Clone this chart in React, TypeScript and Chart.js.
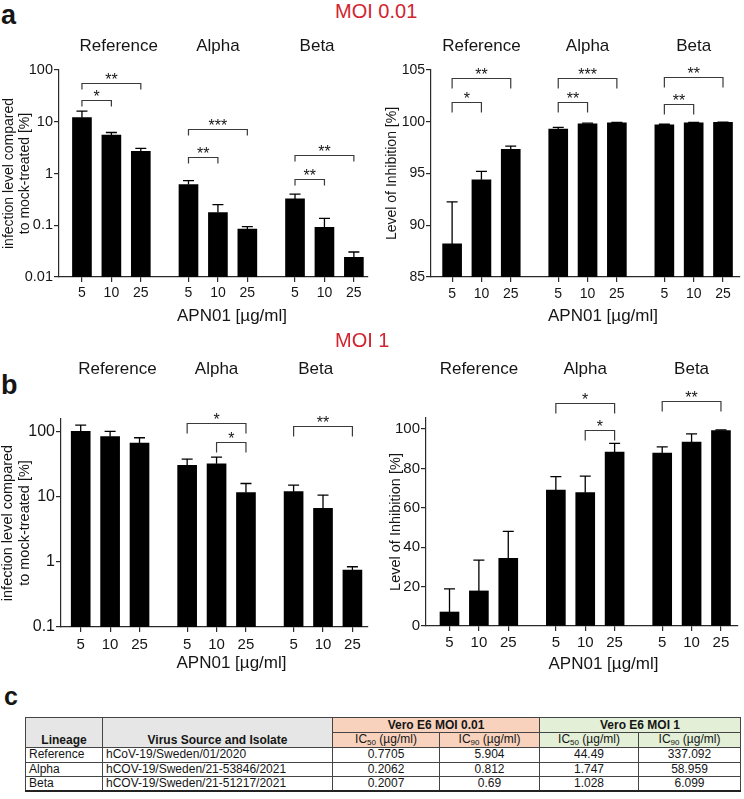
import React, { useEffect, useRef } from 'react';
import { Chart, registerables } from 'chart.js';
Chart.register(...registerables);

const FONT = '"Liberation Sans", Arial, Helvetica, sans-serif';
Chart.defaults.font.family = FONT;
Chart.defaults.color = '#151515';

// ---------- data ----------
const lineages = ['Reference', 'Alpha', 'Beta'];
const doses = ['5', '10', '25'];

// MOI 0.01
const moi001Infection = [12, 5.5, 2.67, 0.61, 0.176, 0.084, 0.323, 0.091, 0.024];
const moi001InfectionUpper = [16.1, 6.2, 3.05, 0.73, 0.25, 0.094, 0.398, 0.136, 0.0304];
const moi001Inhibition = [88.2, 94.4, 97.33, 99.3, 99.8, 99.9, 99.7, 99.9, 99.95];
const moi001InhibitionUpper = [92.26, 95.2, 97.65, 99.45, 99.87, 99.93, 99.76, 99.93, 99.97];
// MOI 1
const moi1Infection = [100, 83, 66, 30.3, 31.8, 11.5, 11.9, 6.6, 0.745];
const moi1InfectionUpper = [125, 100, 80, 37.6, 40.4, 15.9, 15, 10.5, 0.84];
const moi1Inhibition = [7.1, 17.8, 34.4, 69, 67.7, 88.3, 87.8, 93.4, 99.2];
const moi1InhibitionUpper = [18.8, 33.4, 48, 75.8, 76.1, 92.7, 90.9, 97.5, 99.5];

// y tick labels
const ticksInfection001 = [0.01, 0.1, 1, 10, 100];
const ticksInhibition001 = [85, 90, 95, 100, 105];
const ticksInfection1 = [0.1, 1, 10, 100];
const ticksInhibition1 = [0, 20, 40, 60, 80, 100];

// significance brackets: bar indices, level (axis units), label
const sigInfection001 = [
  { from: 0, to: 1, at: 26, label: '*' },
  { from: 0, to: 2, at: 55, label: '**' },
  { from: 3, to: 4, at: 2.07, label: '**' },
  { from: 3, to: 5, at: 7.1, label: '***' },
  { from: 6, to: 7, at: 0.786, label: '**' },
  { from: 6, to: 8, at: 2.23, label: '**' },
];
const sigInhibition001 = [
  { from: 0, to: 1, at: 101.94, label: '*' },
  { from: 0, to: 2, at: 104.26, label: '**' },
  { from: 3, to: 4, at: 101.9, label: '**' },
  { from: 3, to: 5, at: 104.2, label: '***' },
  { from: 6, to: 7, at: 101.7, label: '**' },
  { from: 6, to: 8, at: 104.36, label: '**' },
];
const sigInfection1 = [
  { from: 3, to: 5, at: 135, label: '*' },
  { from: 4, to: 5, at: 70, label: '*' },
  { from: 6, to: 8, at: 119, label: '**' },
];
const sigInhibition1 = [
  { from: 3, to: 5, at: 113, label: '*' },
  { from: 4, to: 5, at: 99.5, label: '*' },
  { from: 6, to: 8, at: 114.4, label: '**' },
];

// table
const tableLineage = ['Reference', 'Alpha', 'Beta'];
const tableIsolate = ['hCoV-19/Sweden/01/2020', 'hCOV-19/Sweden/21-53846/2021', 'hCOV-19/Sweden/21-51217/2021'];
const ic50Moi001 = ['0.7705', '0.2062', '0.2007'];
const ic90Moi001 = ['5.904', '0.812', '0.69'];
const ic50Moi1 = ['44.49', '1.747', '1.028'];
const ic90Moi1 = ['337.092', '58.959', '6.099'];

// ---------- layout ----------
const GROUP_STEP = 3.62;
const xs = lineages.flatMap((_, g) => doses.map((_, i) => g * GROUP_STEP + i));
const AXIS = '#2a2a2a';

type PanelProps = {
  left: number; top: number; width: number; height: number;
  values: number[]; upper: number[]; sig: { from: number; to: number; at: number; label: string }[];
  yType: 'logarithmic' | 'linear'; yMin: number; yMax: number; yTicks: number[];
  yTitle: string | string[]; area: { left: number; right: number; top: number; bottom: number };
  xMin: number; xMax: number;
  yTickSize: number; xTickSize: number; xTickPad: number;
  yTitleSize: number; yTitleLH: number; yTitlePad: number;
  xTitleX: number; xTitleY: number; groupY: number; labelShift: number; legLen: number;
};

function BarPanel(p: PanelProps) {
  const ref = useRef<HTMLCanvasElement | null>(null);
  useEffect(() => {
    if (!ref.current) return;
    const annot = {
      id: 'annot',
      afterDatasetsDraw(chart: any) {
        const { ctx } = chart;
        const x = chart.scales.x, y = chart.scales.y;
        ctx.save();
        // error bars
        ctx.strokeStyle = '#000';
        ctx.lineWidth = 1.3;
        p.upper.forEach((u, k) => {
          const px = x.getPixelForValue(xs[k]);
          const top = y.getPixelForValue(u);
          const base = y.getPixelForValue(p.values[k]);
          ctx.beginPath();
          ctx.moveTo(px, base);
          ctx.lineTo(px, top);
          ctx.moveTo(px - 5.5, top);
          ctx.lineTo(px + 5.5, top);
          ctx.stroke();
        });
        // brackets
        p.sig.forEach((s) => {
          const x1 = x.getPixelForValue(xs[s.from]);
          const x2 = x.getPixelForValue(xs[s.to]);
          const yy = Math.round(y.getPixelForValue(s.at)) + 0.5;
          ctx.strokeStyle = '#3a3a3a';
          ctx.lineWidth = 1.2;
          ctx.beginPath();
          ctx.moveTo(x1, yy + p.legLen);
          ctx.lineTo(x1, yy);
          ctx.lineTo(x2, yy);
          ctx.lineTo(x2, yy + p.legLen);
          ctx.stroke();
          ctx.fillStyle = '#151515';
          ctx.font = `16px ${FONT}`;
          ctx.textAlign = 'center';
          ctx.textBaseline = 'alphabetic';
          ctx.fillText(s.label, (x1 + x2) / 2, yy + 1);
        });
        // group labels
        ctx.fillStyle = '#151515';
        ctx.font = `17px ${FONT}`;
        ctx.textAlign = 'center';
        ctx.textBaseline = 'middle';
        lineages.forEach((name, g) => {
          ctx.fillText(name, x.getPixelForValue(g * GROUP_STEP + 1 + (1 - g) * p.labelShift), p.groupY);
        });
        // x title
        ctx.font = `17px ${FONT}`;
        ctx.fillText('APN01 [µg/ml]', p.xTitleX, p.xTitleY);
        ctx.restore();
      },
    };
    const gridOpts = { drawOnChartArea: false, drawTicks: true, tickLength: 5, color: AXIS, lineWidth: 1.2, offset: false };
    const chart = new Chart(ref.current, {
      type: 'bar',
      data: {
        datasets: [{
          data: xs.map((x, k) => ({ x, y: p.values[k] })),
          backgroundColor: '#000',
          borderWidth: 0,
          barThickness: 19,
        }],
      },
      options: {
        animation: false,
        responsive: false,
        maintainAspectRatio: false,
        layout: { padding: { left: 0, top: p.area.top, right: p.width - p.area.right, bottom: 0 } },
        plugins: { legend: { display: false }, tooltip: { enabled: false } },
        scales: {
          x: {
            type: 'linear',
            offset: false,
            min: p.xMin,
            max: p.xMax,
            afterFit: (s: any) => { s.height = p.height - p.area.bottom; },
            afterBuildTicks: (s: any) => { s.ticks = xs.map((v) => ({ value: v })); },
            ticks: {
              callback: (_v: any, i: number) => doses[i % 3],
              autoSkip: false, maxRotation: 0, minRotation: 0,
              padding: p.xTickPad, font: { size: p.xTickSize }, color: '#151515',
            },
            grid: gridOpts,
            border: { display: true, color: AXIS, width: 1.2 },
          },
          y: {
            type: p.yType,
            min: p.yMin,
            max: p.yMax,
            afterFit: (s: any) => { s.width = p.area.left; },
            afterBuildTicks: (s: any) => { s.ticks = p.yTicks.map((v) => ({ value: v })); },
            ticks: {
              callback: (v: any) => String(v),
              autoSkip: false,
              padding: 1, font: { size: p.yTickSize }, color: '#151515',
            },
            grid: gridOpts,
            border: { display: true, color: AXIS, width: 1.2 },
            title: {
              display: true, text: p.yTitle, color: '#151515',
              font: { size: p.yTitleSize, lineHeight: p.yTitleLH },
              padding: { top: p.yTitlePad, bottom: 0 },
            },
          },
        },
      } as any,
      plugins: [annot as any],
    });
    return () => chart.destroy();
  }, []);
  return (
    <canvas
      ref={ref}
      width={p.width}
      height={p.height}
      style={{ position: 'absolute', left: p.left, top: p.top, width: p.width, height: p.height }}
    />
  );
}

const infTitle = ['infection level compared', 'to mock-treated [%]'];
const inhTitle = 'Level of Inhibition [%]';

const cell: React.CSSProperties = { border: '1px solid #444', padding: '0 3px', lineHeight: '13px', whiteSpace: 'nowrap' };
const SUB = (n: string) => (<span>IC<sub style={{ fontSize: 8, verticalAlign: 'baseline', position: 'relative', top: 2 }}>{n}</sub> (µg/ml)</span>);

export default function App() {
  return (
    <div style={{ position: 'absolute', left: 0, top: 0, width: 744, height: 799, background: '#fff', fontFamily: FONT, color: '#151515', overflow: 'hidden' }}>
      <div style={{ position: 'absolute', left: 1, top: 2, fontSize: 27, fontWeight: 'bold', lineHeight: 1 }}>a</div>
      <div style={{ position: 'absolute', left: 335, top: 1, fontSize: 20, color: '#d2232f', lineHeight: 1 }}>MOI 0.01</div>
      <BarPanel left={0} top={30} width={372} height={300}
        values={moi001Infection} upper={moi001InfectionUpper} sig={sigInfection001}
        yType="logarithmic" yMin={0.01} yMax={100} yTicks={ticksInfection001} yTitle={infTitle}
        area={{ left: 59, right: 368, top: 40, bottom: 247 }} xMin={-0.78} xMax={9.72}
        yTickSize={14.5} xTickSize={14} xTickPad={2.6} yTitleSize={14} yTitleLH={1.15} yTitlePad={1}
        xTitleX={232} xTitleY={286.5} groupY={16} labelShift={0.25} legLen={6} />
      <BarPanel left={372} top={30} width={372} height={300}
        values={moi001Inhibition} upper={moi001InhibitionUpper} sig={sigInhibition001}
        yType="linear" yMin={85} yMax={105} yTicks={ticksInhibition001} yTitle={inhTitle}
        area={{ left: 59, right: 368, top: 40, bottom: 247 }} xMin={-0.72} xMax={9.82}
        yTickSize={14} xTickSize={14} xTickPad={3.5} yTitleSize={14} yTitleLH={1.2} yTitlePad={11.6}
        xTitleX={231} xTitleY={286.5} groupY={16} labelShift={0} legLen={10} />

      <div style={{ position: 'absolute', left: 1, top: 372, fontSize: 27, fontWeight: 'bold', lineHeight: 1 }}>b</div>
      <div style={{ position: 'absolute', left: 335, top: 330, fontSize: 20, color: '#d2232f', lineHeight: 1 }}>MOI 1</div>
      <BarPanel left={0} top={350} width={372} height={330}
        values={moi1Infection} upper={moi1InfectionUpper} sig={sigInfection1}
        yType="logarithmic" yMin={0.1} yMax={155} yTicks={ticksInfection1} yTitle={infTitle}
        area={{ left: 61, right: 368, top: 69, bottom: 277 }} xMin={-0.67} xMax={9.77}
        yTickSize={16} xTickSize={15} xTickPad={4} yTitleSize={14.5} yTitleLH={1.15} yTitlePad={0}
        xTitleX={231.5} xTitleY={313} groupY={19.5} labelShift={0.25} legLen={10} />
      <BarPanel left={372} top={350} width={372} height={330}
        values={moi1Inhibition} upper={moi1InhibitionUpper} sig={sigInhibition1}
        yType="linear" yMin={0} yMax={105.6} yTicks={ticksInhibition1} yTitle={inhTitle}
        area={{ left: 54, right: 366, top: 68, bottom: 276 }} xMin={-0.8} xMax={9.82}
        yTickSize={15} xTickSize={15} xTickPad={3} yTitleSize={14.5} yTitleLH={1.2} yTitlePad={15.3}
        xTitleX={231.5} xTitleY={314} groupY={19.5} labelShift={0} legLen={10} />

      <div style={{ position: 'absolute', left: 4, top: 684, fontSize: 25, fontWeight: 'bold', lineHeight: 1 }}>c</div>
      <table style={{ position: 'absolute', left: 25, top: 717, width: 715, borderCollapse: 'collapse', tableLayout: 'fixed', fontSize: 12, borderBottom: '2px solid #222' }}>
        <colgroup>
          <col style={{ width: 77 }} />
          <col style={{ width: 230 }} />
          <col style={{ width: 107 }} />
          <col style={{ width: 100 }} />
          <col style={{ width: 99 }} />
          <col style={{ width: 102 }} />
        </colgroup>
        <tbody>
          <tr style={{ height: 15 }}>
            <td rowSpan={2} style={{ ...cell, background: '#e6e6e6', fontWeight: 'bold', textAlign: 'center', verticalAlign: 'bottom' }}>Lineage</td>
            <td rowSpan={2} style={{ ...cell, background: '#e6e6e6', fontWeight: 'bold', textAlign: 'center', verticalAlign: 'bottom' }}>Virus Source and Isolate</td>
            <td colSpan={2} style={{ ...cell, background: '#f8d2bd', fontWeight: 'bold', textAlign: 'center' }}>Vero E6 MOI 0.01</td>
            <td colSpan={2} style={{ ...cell, background: '#e3efd6', fontWeight: 'bold', textAlign: 'center' }}>Vero E6 MOI 1</td>
          </tr>
          <tr style={{ height: 15 }}>
            <td style={{ ...cell, background: '#f8d2bd', textAlign: 'center' }}>{SUB('50')}</td>
            <td style={{ ...cell, background: '#f8d2bd', textAlign: 'center' }}>{SUB('90')}</td>
            <td style={{ ...cell, background: '#e3efd6', textAlign: 'center' }}>{SUB('50')}</td>
            <td style={{ ...cell, background: '#e3efd6', textAlign: 'center' }}>{SUB('90')}</td>
          </tr>
          {tableLineage.map((l, r) => (
            <tr key={l} style={{ height: 14.5 }}>
              <td style={{ ...cell, borderTop: r === 0 ? '1.5px solid #222' : cell.border }}>{l}</td>
              <td style={{ ...cell, borderTop: r === 0 ? '1.5px solid #222' : cell.border }}>{tableIsolate[r]}</td>
              <td style={{ ...cell, textAlign: 'center', borderTop: r === 0 ? '1.5px solid #222' : cell.border }}>{ic50Moi001[r]}</td>
              <td style={{ ...cell, textAlign: 'center', borderTop: r === 0 ? '1.5px solid #222' : cell.border }}>{ic90Moi001[r]}</td>
              <td style={{ ...cell, textAlign: 'center', borderTop: r === 0 ? '1.5px solid #222' : cell.border }}>{ic50Moi1[r]}</td>
              <td style={{ ...cell, textAlign: 'center', borderTop: r === 0 ? '1.5px solid #222' : cell.border }}>{ic90Moi1[r]}</td>
            </tr>
          ))}
        </tbody>
      </table>
    </div>
  );
}
